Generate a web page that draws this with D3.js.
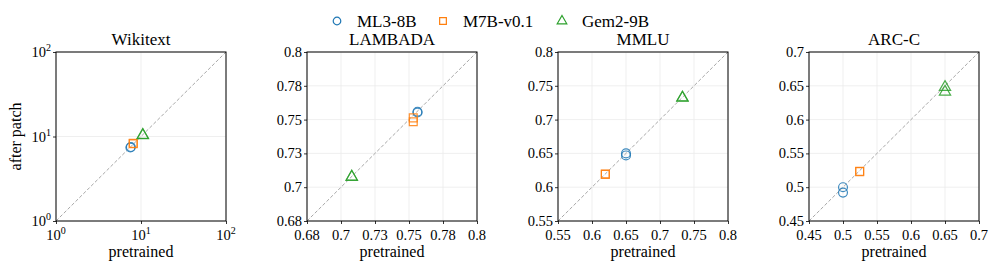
<!DOCTYPE html>
<html>
<head>
<meta charset="utf-8">
<script src="https://cdn.jsdelivr.net/npm/d3@7"></script>
<style>
  body { margin: 0; background: #fff; }
  svg text { font-family: "Liberation Serif", "DejaVu Serif", serif; fill: #000; }
</style>
</head>
<body>
<svg id="chart" width="996" height="270"></svg>
<script>
// models / legend
var models = ["ML3-8B", "M7B-v0.1", "Gem2-9B"];
var colors = ["#1f77b4", "#ff7f0e", "#2ca02c"];
var shapes = [d3.symbolCircle, d3.symbolSquare, d3.symbolTriangle];

// panels
var titles = ["Wikitext", "LAMBADA", "MMLU", "ARC-C"];
var domains = [[1, 100], [0.68, 0.8], [0.55, 0.8], [0.45, 0.7]];
var tickLabels = [
  ["0", "1", "2"],
  ["0.68", "0.7", "0.73", "0.75", "0.78", "0.8"],
  ["0.55", "0.6", "0.65", "0.7", "0.75", "0.8"],
  ["0.45", "0.5", "0.55", "0.6", "0.65", "0.7"]
];

// points: [pretrained, after patch], two runs per model
var wikiPts = [[[7.5, 7.4], [7.6, 7.5]], [[8.1, 8.2], [8.1, 8.3]], [[10.5, 10.3], [10.5, 10.4]]];
var lambadaPts = [[[0.758, 0.7576], [0.758, 0.757]], [[0.755, 0.7532], [0.755, 0.7505]], [[0.7116, 0.7114], [0.7116, 0.7112]]];
var mmluPts = [[[0.650, 0.650], [0.650, 0.647]], [[0.6196, 0.6195], [0.6196, 0.619]], [[0.733, 0.7325], [0.733, 0.732]]];
var arcPts = [[[0.500, 0.500], [0.500, 0.492]], [[0.5245, 0.5235], [0.5245, 0.523]], [[0.650, 0.648], [0.650, 0.641]]];
var panelPts = [wikiPts, lambadaPts, mmluPts, arcPts];

var svg = d3.select("#chart");
var lefts = [56, 307, 558, 809];
var plotTop = 52, w = 170, h = 169;

titles.forEach(function(title, p) {
  var g = svg.append("g").attr("transform", "translate(" + lefts[p] + "," + plotTop + ")");
  var log = p === 0;
  var dom = domains[p];
  var x = log ? d3.scaleLog().domain(dom).range([0, w]) : d3.scaleLinear().domain(dom).range([0, w]);
  var y = log ? d3.scaleLog().domain(dom).range([h, 0]) : d3.scaleLinear().domain(dom).range([h, 0]);
  var ticks = log ? [1, 10, 100] : d3.range(6).map(function(i) { return dom[0] + (dom[1] - dom[0]) * i / 5; });
  var labs = tickLabels[p];

  // grid
  g.selectAll(".gx").data(ticks).enter().append("line")
    .attr("x1", function(d) { return x(d); }).attr("x2", function(d) { return x(d); })
    .attr("y1", 0).attr("y2", h)
    .attr("stroke", "#ebebeb").attr("stroke-width", 0.8);
  g.selectAll(".gy").data(ticks).enter().append("line")
    .attr("y1", function(d) { return y(d); }).attr("y2", function(d) { return y(d); })
    .attr("x1", 0).attr("x2", w)
    .attr("stroke", "#ebebeb").attr("stroke-width", 0.8);

  // diagonal
  g.append("line")
    .attr("x1", x(dom[0])).attr("y1", y(dom[0]))
    .attr("x2", x(dom[1])).attr("y2", y(dom[1]))
    .attr("stroke", "#a8a8a8").attr("stroke-width", 1)
    .attr("stroke-dasharray", "3.5,2");

  // axes
  var xAxis = d3.axisBottom(x).tickValues(ticks).tickSize(3).tickFormat("");
  var yAxis = d3.axisLeft(y).tickValues(ticks).tickSize(3).tickFormat("");
  var gx = g.append("g").attr("transform", "translate(0," + h + ")").call(xAxis);
  var gy = g.append("g").call(yAxis);
  [gx, gy].forEach(function(a) {
    a.select(".domain").remove();
    a.selectAll("line").attr("stroke", "#000").attr("stroke-width", 0.8);
  });

  // tick labels
  ticks.forEach(function(t, i) {
    var tx = g.append("text").attr("x", x(t)).attr("y", h + 19)
      .attr("text-anchor", "middle").style("font-size", "14.5px");
    var ty = g.append("text").attr("x", -5).attr("y", y(t) + 5)
      .attr("text-anchor", "end").style("font-size", "14.5px");
    [tx, ty].forEach(function(el) {
      if (log) {
        el.append("tspan").text("10");
        el.append("tspan").attr("dy", -6).style("font-size", "10px").text(labs[i]);
      } else {
        el.text(labs[i]);
      }
    });
  });

  // frame
  g.append("rect").attr("x", 0).attr("y", 0).attr("width", w).attr("height", h)
    .attr("fill", "none").attr("stroke", "#000").attr("stroke-width", 1);

  // points
  panelPts[p].forEach(function(runs, m) {
    g.selectAll(".pt" + m).data(runs).enter().append("path")
      .attr("d", d3.symbol().type(shapes[m]).size(m === 2 ? 55 : 62))
      .attr("transform", function(d) { return "translate(" + x(d[0]) + "," + y(d[1]) + ")"; })
      .attr("fill", "none").attr("stroke", colors[m]).attr("stroke-width", 1.2)
      .attr("stroke-opacity", 0.85);
  });

  // title & x label
  g.append("text").attr("x", w / 2).attr("y", -7).attr("text-anchor", "middle")
    .style("font-size", "17px").text(title);
  g.append("text").attr("x", w / 2).attr("y", h + 36).attr("text-anchor", "middle")
    .style("font-size", "16px").text("pretrained");
});

// y label
svg.append("text").attr("transform", "translate(21," + (plotTop + h / 2) + ") rotate(-90)")
  .attr("text-anchor", "middle").style("font-size", "16px").text("after patch");

// legend
var legX = [337, 443, 562];
models.forEach(function(name, m) {
  svg.append("path")
    .attr("d", d3.symbol().type(shapes[m]).size(m === 2 ? 40 : 45))
    .attr("transform", "translate(" + legX[m] + ",21)")
    .attr("fill", "none").attr("stroke", colors[m]).attr("stroke-width", 1.2);
  svg.append("text").attr("x", legX[m] + 20).attr("y", 27)
    .style("font-size", "17px").text(name);
});
</script>
</body>
</html>
